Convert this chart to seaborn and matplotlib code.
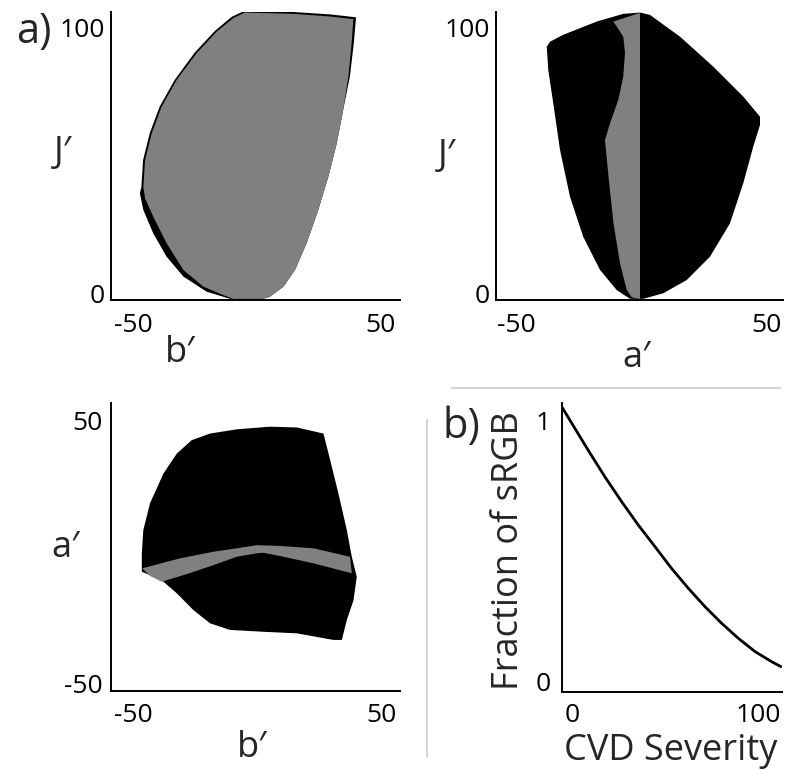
import numpy as np
import pandas as pd
import matplotlib
matplotlib.use("Agg")
import matplotlib.pyplot as plt
import seaborn as sns
from matplotlib.lines import Line2D

sns.set_theme(style="white")
plt.rcParams['font.family'] = ['Open Sans', 'DejaVu Sans']

# ---------------- Data ----------------
# Panel a (top-left): b' vs J' -- full gamut (black) and CVD gamut (gray)
p1_full_b = [-4.7, 14.9, 29.8, 40.3, 39.4, 37.8, 35.1, 32.5, 29.1, 25.0, 20.3, 15.6, 10.9, 5.5,
             2.8, -10.7, -20.2, -29.6, -36.4, -41.8, -45.8, -47.2, -46.6, -45.9, -43.2, -39.2,
             -33.1, -25.0, -16.8, -10.0]
p1_full_J = [106.5, 106.0, 105.1, 104.0, 94.2, 81.6, 69.1, 56.5, 43.9, 31.3, 18.8, 8.7, 2.4, -1.4,
             -2.2, -2.2, 0.5, 6.2, 13.7, 22.5, 31.3, 37.6, 40.1, 50.2, 60.3, 70.3,
             80.4, 90.7, 98.9, 104.2]
p1_cvd_b = [-4.7, 14.9, 29.8, 39.2, 38.5, 37.2, 35.1, 32.5, 29.1, 25.0, 20.3, 15.6, 10.9, 5.5,
            2.8, -9.4, -13.4, -21.5, -29.6, -36.4, -41.8, -45.1, -45.8, -45.1, -42.4, -38.4,
            -32.3, -24.2, -16.1, -9.4]
p1_cvd_J = [105.8, 105.3, 104.3, 103.3, 94.2, 81.6, 69.1, 56.5, 43.9, 31.3, 18.8, 8.7, 2.4, -1.4,
            -2.2, -2.2, -0.8, 2.4, 8.7, 18.8, 28.8, 35.7, 40.1, 50.2, 60.3, 70.3,
            80.4, 90.5, 98.6, 103.7]

# Panel a (top-right): a' vs J'
p2_full_a = [-38, -36.7, -31.4, -18, -7.4, -0.7, 3.3, 15.3, 28.6, 40.6, 47.3, 47.3, 44.6, 40.6,
             35.3, 27.3, 18, 8.6, 0.6, -4.7, -10, -16.7, -23.4, -28.7, -32.7, -35.4, -37.4]
p2_full_J = [92.9, 94.8, 97.4, 102.4, 105.3, 105.8, 104.9, 96.7, 85.4, 74.1, 66.5, 63.4, 55.2, 41.4,
             26.3, 13.7, 4.9, -0.1, -2.2, -2.2, 1.1, 8.7, 21.2, 36.3, 54, 71.6, 84.2]
p2_cvd_a = [-11.4, -9.4, -1.3, -0.7, -0.7, -4, -6, -8.7, -11.3, -13.3, -14.7, -12.7, -9.4,
            -7.4, -6.7, -7.4, -10]
p2_cvd_J = [102.4, 103, 105.5, 105.5, -2.2, -1.6, 1.1, 11.2, 26.3, 43.9, 57.7, 64, 72.8,
            81.6, 90.5, 96.7, 100.5]

# Panel a (bottom-left): b' vs a'
p3_full_b = [-46.6, -46.6, -46.0, -43.3, -37.9, -32.5, -26.5, -19.1, -8.4, 5.0, 15.8, 26.5, 29.2,
             32.5, 35.9, 37.9, 39.9, 38.6, 35.9, 33.9, 30.5, 15.8, 2.3, -11.1, -19.1, -25.8,
             -32.5, -38.6]
p3_full_a = [-7.6, -0.6, 8.2, 18.4, 29.7, 37.3, 42.4, 44.9, 46.5, 47.5, 47.2, 44.9, 34.8,
             22.2, 8.2, -1.9, -9.5, -18.4, -25.9, -33.5, -33.5, -31.0, -30.4, -29.7, -27.2, -22.2,
             -15.8, -10.8]
p3_cvd_b = [-46.4, -31.2, -17.8, -8.4, -0.3, 9.1, 22.5, 37.2, 37.9, 22.5, 10.4, 2.3, -0.3,
            -8.4, -17.8, -28.5, -38.6, -43.3]
p3_cvd_a = [-6.3, -2.5, 0.0, 1.3, 2.5, 2.2, 1.3, -1.9, -8.2, -4.4, -1.9, -0.4, -0.6,
            -1.9, -5.1, -8.5, -11.4, -9.2]

# Panel b: fraction of sRGB vs CVD severity
severity = [-6.1, 1.5, 8.6, 17.6, 26.6, 35.5, 44.5, 53.4, 62.4, 71.3, 80.3, 89.2, 98.2, 107.2, 112.2]
fraction = [1.057, 0.968, 0.885, 0.783, 0.688, 0.599, 0.516, 0.433, 0.357, 0.287, 0.223, 0.166,
            0.115, 0.076, 0.057]

# ---------------- Figure ----------------
W, H = 785, 769
fig = plt.figure(figsize=(W / 100, H / 100), dpi=100)

def px_axes(l, r, b, t):
    return fig.add_axes([l / W, 1 - b / H, (r - l) / W, (b - t) / H])

ax1 = px_axes(111, 400, 300, 12)
ax2 = px_axes(496, 783, 300, 12)
ax3 = px_axes(111, 400, 691, 403)
ax4 = px_axes(561.7, 781.7, 692.3, 403.3)

GRAY = "#808080"
TICK_FS = 19
LAB_FS = 26

def style(ax, xl, yl, xt, yt, xlab, ylab, xlab_pos, ylab_pos, xpad=9, ypad=4.5):
    ax.set_xlim(*xl)
    ax.set_ylim(*yl)
    ax.set_xticks(xt)
    ax.set_yticks(yt)
    ax.set_xticklabels([str(v) for v in xt])
    ax.set_yticklabels([str(v) for v in yt])
    ax.tick_params(axis='x', length=0, labelsize=TICK_FS, pad=xpad, colors='black')
    ax.tick_params(axis='y', length=0, labelsize=TICK_FS, pad=ypad, colors='black')
    sns.despine(ax=ax)
    for s in ['left', 'bottom']:
        ax.spines[s].set_color('black')
        ax.spines[s].set_linewidth(1.4)
    ax.set_facecolor('white')
    ax.set_xlabel(xlab, fontsize=LAB_FS, va='center', ha='center')
    ax.set_ylabel(ylab, fontsize=LAB_FS, rotation=0 if len(ylab) < 4 else 90,
                  va='center', ha='center')
    ax.xaxis.set_label_coords(*xlab_pos)
    ax.yaxis.set_label_coords(*ylab_pos)

# Panel 1
ax1.fill(p1_full_b, p1_full_J, color='black', lw=0)
ax1.fill(p1_cvd_b, p1_cvd_J, color=GRAY, lw=0)
style(ax1, (-58.9, 58.1), (-2.64, 106.0), [-50, 50], [0, 100], "b′", "J′",
      (0.239, -0.184), (-0.168, 0.51))

# Panel 2
ax2.fill(p2_full_a, p2_full_J, color='black', lw=0)
ax2.fill(p2_cvd_a, p2_cvd_J, color=GRAY, lw=0)
style(ax2, (-58.3, 56.5), (-2.64, 106.0), [-50, 50], [0, 100], "a′", "J′",
      (0.491, -0.2), (-0.171, 0.5))

# Panel 3
ax3.fill(p3_full_b, p3_full_a, color='black', lw=0)
ax3.fill(p3_cvd_b, p3_cvd_a, color=GRAY, lw=0)
style(ax3, (-59.0, 57.3), (-52.9, 56.5), [-50, 50], [-50, 50], "b′", "a′",
      (0.488, -0.198), (-0.156, 0.497), ypad=6)

# Panel 4
df = pd.DataFrame({"CVD Severity": severity, "Fraction of sRGB": fraction})
sns.lineplot(data=df, x="CVD Severity", y="Fraction of sRGB", ax=ax4,
             color='black', linewidth=2.0, sort=False)
style(ax4, (-5.6, 112.6), (-0.041, 1.064), [0, 100], [0, 1],
      "CVD Severity", "Fraction of sRGB", (0.497, -0.203), (-0.24, 0.489),
      xpad=8, ypad=8)

# Panel letters
fig.text(34 / W, 1 - 32 / H, "a)", fontsize=30, ha='center', va='center')
fig.text(461 / W, 1 - 427 / H, "b)", fontsize=30, ha='center', va='center')

# Separator lines
fig.add_artist(Line2D([452 / W, 780 / W], [1 - 388 / H, 1 - 388 / H],
                      color='#d0d0d0', lw=1.3))
fig.add_artist(Line2D([427 / W, 427 / W], [1 - 420 / H, 1 - 757 / H],
                      color='#d0d0d0', lw=1.3))

fig.savefig("out.png", dpi=100, facecolor='white')
